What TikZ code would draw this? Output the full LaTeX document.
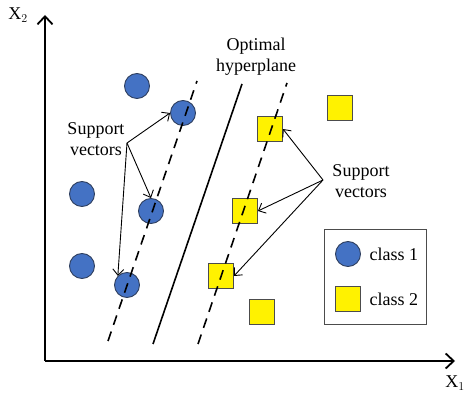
\documentclass[tikz,border=0pt]{standalone}
\usepackage{fontspec}
\setmainfont{Liberation Serif}
\usetikzlibrary{arrows.meta}
\definecolor{dotblue}{HTML}{4472C4}
\definecolor{dotedge}{HTML}{2F3F5F}
\tikzset{
    cls1/.style={circle, draw=dotedge, fill=dotblue, line width=0.9pt, minimum size=25pt, inner sep=0pt},
    cls2/.style={rectangle, draw=black!70, fill=yellow, line width=0.9pt, minimum size=25pt, inner sep=0pt},
    margin/.style={line width=1.6pt, dash pattern=on 10pt off 7pt},
    pointer/.style={-{Straight Barb[length=6pt,width=11pt]}, line width=0.9pt},
    lbl/.style={font=\fontsize{18}{21}\selectfont, align=center}
}
\begin{document}
\begin{tikzpicture}[x=1pt, y=1pt]
    \useasboundingbox (0,0) rectangle (464,394);

    % Axes
    \coordinate (origin) at (45,33);
    \coordinate (xend) at (455,33);
    \coordinate (yend) at (45,379);
    \draw[line width=1.8pt, -{Straight Barb[length=8pt,width=15pt]}] (origin) -- (xend);
    \draw[line width=1.8pt, -{Straight Barb[length=8pt,width=15pt]}] (origin) -- (yend);
    \node[lbl] (xlab) at (455,11) {X$_1$};
    \node[lbl] (ylab) at (18,379) {X$_2$};

    % Class 1 points
    \node[cls1] (c1) at (137,308) {};
    \node[cls1] (c2) at (183,281) {};
    \node[cls1] (c3) at (82,200) {};
    \node[cls1] (c4) at (151,183) {};
    \node[cls1] (c5) at (82,128) {};
    \node[cls1] (c6) at (127,109) {};

    % Class 2 points
    \node[cls2] (s1) at (270,265) {};
    \node[cls2] (s2) at (340,286) {};
    \node[cls2] (s3) at (245,183) {};
    \node[cls2] (s4) at (221,118) {};
    \node[cls2] (s5) at (262,82) {};

    % Hyperplane and margins
    \coordinate (m1a) at (108,53);  \coordinate (m1b) at (197,313);
    \coordinate (hpa) at (153,50);  \coordinate (hpb) at (242,310);
    \coordinate (m2a) at (198,50);  \coordinate (m2b) at (287,311);
    \draw[margin] (m1a) -- (m1b);
    \draw[line width=1.6pt] (hpa) -- (hpb);
    \draw[margin] (m2a) -- (m2b);
    \node[lbl] (hplab) at (256,337) {Optimal\\hyperplane};

    % Support vectors, left
    \node[lbl] (svleft) at (96,255) {Support\\vectors};
    \coordinate (svl) at (127,251);
    \draw[pointer] (svl) -- (c2.west);
    \draw[pointer] (svl) -- (c4.north);
    \draw[pointer] (svl) -- (c6.north west);

    % Support vectors, right
    \node[lbl] (svright) at (361,213) {Support\\vectors};
    \coordinate (svr) at (323,214);
    \draw[pointer] (svr) -- (s1.east);
    \draw[pointer] (svr) -- (s3.east);
    \draw[pointer] (svr) -- (s4.east);

    % Legend
    \draw[draw=black!70, line width=0.9pt] (324,70) rectangle (426,165);
    \node[cls1] (key1) at (348,140) {};
    \node[cls2] (key2) at (348,95) {};
    \node[lbl, anchor=west] (key1lab) at (366,140) {class 1};
    \node[lbl, anchor=west] (key2lab) at (366,95) {class 2};

\end{tikzpicture}
\end{document}
